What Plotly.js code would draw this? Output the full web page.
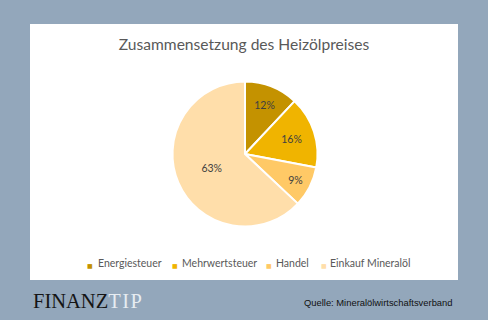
<!DOCTYPE html>
<html>
<head>
<meta charset="utf-8">
<script src="https://cdn.plot.ly/plotly-3.0.1.min.js"></script>
<style>html,body{margin:0;padding:0;}#chart{width:488px;height:320px;}</style>
</head>
<body>
<div id="chart"></div>
<script>
const categories = ["Energiesteuer", "Mehrwertsteuer", "Handel", "Einkauf Mineralöl"];
const shares = [12, 16, 9, 63];
const sliceColors = ["#C49200", "#F0B400", "#FFC966", "#FFDEAA"];
const chartTitle = "Zusammensetzung des Heizölpreises";
const sourceNote = "Quelle: Mineralölwirtschaftsverband";

const W = 488, H = 320;
const cx = 245, cy = 154, r = 72.5;
// legend layout (pixel positions of each entry's marker centre and text start)
const legendMarkerX = [89.5, 175, 268.5, 323.5];
const legendTextX = [96, 180, 274, 328];
const legendY = 263;

const traces = [{
  type: "pie",
  labels: categories,
  values: shares,
  sort: false,
  direction: "clockwise",
  rotation: 0,
  marker: {colors: sliceColors, line: {color: "#FFFFFF", width: 2}},
  texttemplate: "%{percent:.0%}",
  textposition: "inside",
  insidetextorientation: "horizontal",
  textfont: {family: "Lato, sans-serif", size: 10.5, color: "#404040"},
  hoverinfo: "label+percent",
  showlegend: false,
  domain: {x: [(cx - r) / W, (cx + r) / W], y: [1 - (cy + r) / H, 1 - (cy - r) / H]}
}];

const legendAnnotations = [];
categories.forEach((c, i) => {
  legendAnnotations.push({
    xref: "paper", yref: "paper", x: legendMarkerX[i] / W, y: 1 - (legendY + 2) / H,
    xanchor: "center", yanchor: "middle", showarrow: false,
    text: "■", font: {family: "DejaVu Sans, sans-serif", size: 6, color: sliceColors[i]}
  });
  legendAnnotations.push({
    xref: "paper", yref: "paper", x: legendTextX[i] / W, y: 1 - legendY / H,
    xanchor: "left", yanchor: "middle", showarrow: false,
    text: c, font: {family: "Lato, sans-serif", size: 10.5, color: "#595959"}
  });
});

const layout = {
  width: W, height: H,
  margin: {l: 0, r: 0, t: 0, b: 0},
  paper_bgcolor: "#93A7BB",
  plot_bgcolor: "rgba(0,0,0,0)",
  title: {text: chartTitle, x: 0.5, xanchor: "center", y: 1 - 45 / H, yanchor: "middle",
          font: {family: "Lato, sans-serif", size: 15.6, color: "#595959"}},
  showlegend: false,
  shapes: [{type: "rect", xref: "paper", yref: "paper", layer: "below",
            x0: 30 / W, x1: 458 / W, y0: 1 - 280 / H, y1: 1 - 24 / H,
            fillcolor: "#FFFFFF", line: {width: 0}}],
  annotations: legendAnnotations.concat([
    {xref: "paper", yref: "paper", x: 31 / W, y: 1 - 301 / H, xanchor: "left", yanchor: "middle",
     showarrow: false, text: "FINANZ<span style='color:#E6ECF1;letter-spacing:1.5px'>TIP</span>",
     font: {family: "Liberation Serif, serif", size: 20.5, color: "#151515"}},
    {xref: "paper", yref: "paper", x: 455 / W, y: 1 - 302 / H, xanchor: "right", yanchor: "middle",
     showarrow: false, text: sourceNote,
     font: {family: "Liberation Sans, Arial, sans-serif", size: 9.4, color: "#111111"}}
  ])
};

Plotly.newPlot("chart", traces, layout, {displayModeBar: false, staticPlot: true});
</script>
</body>
</html>
